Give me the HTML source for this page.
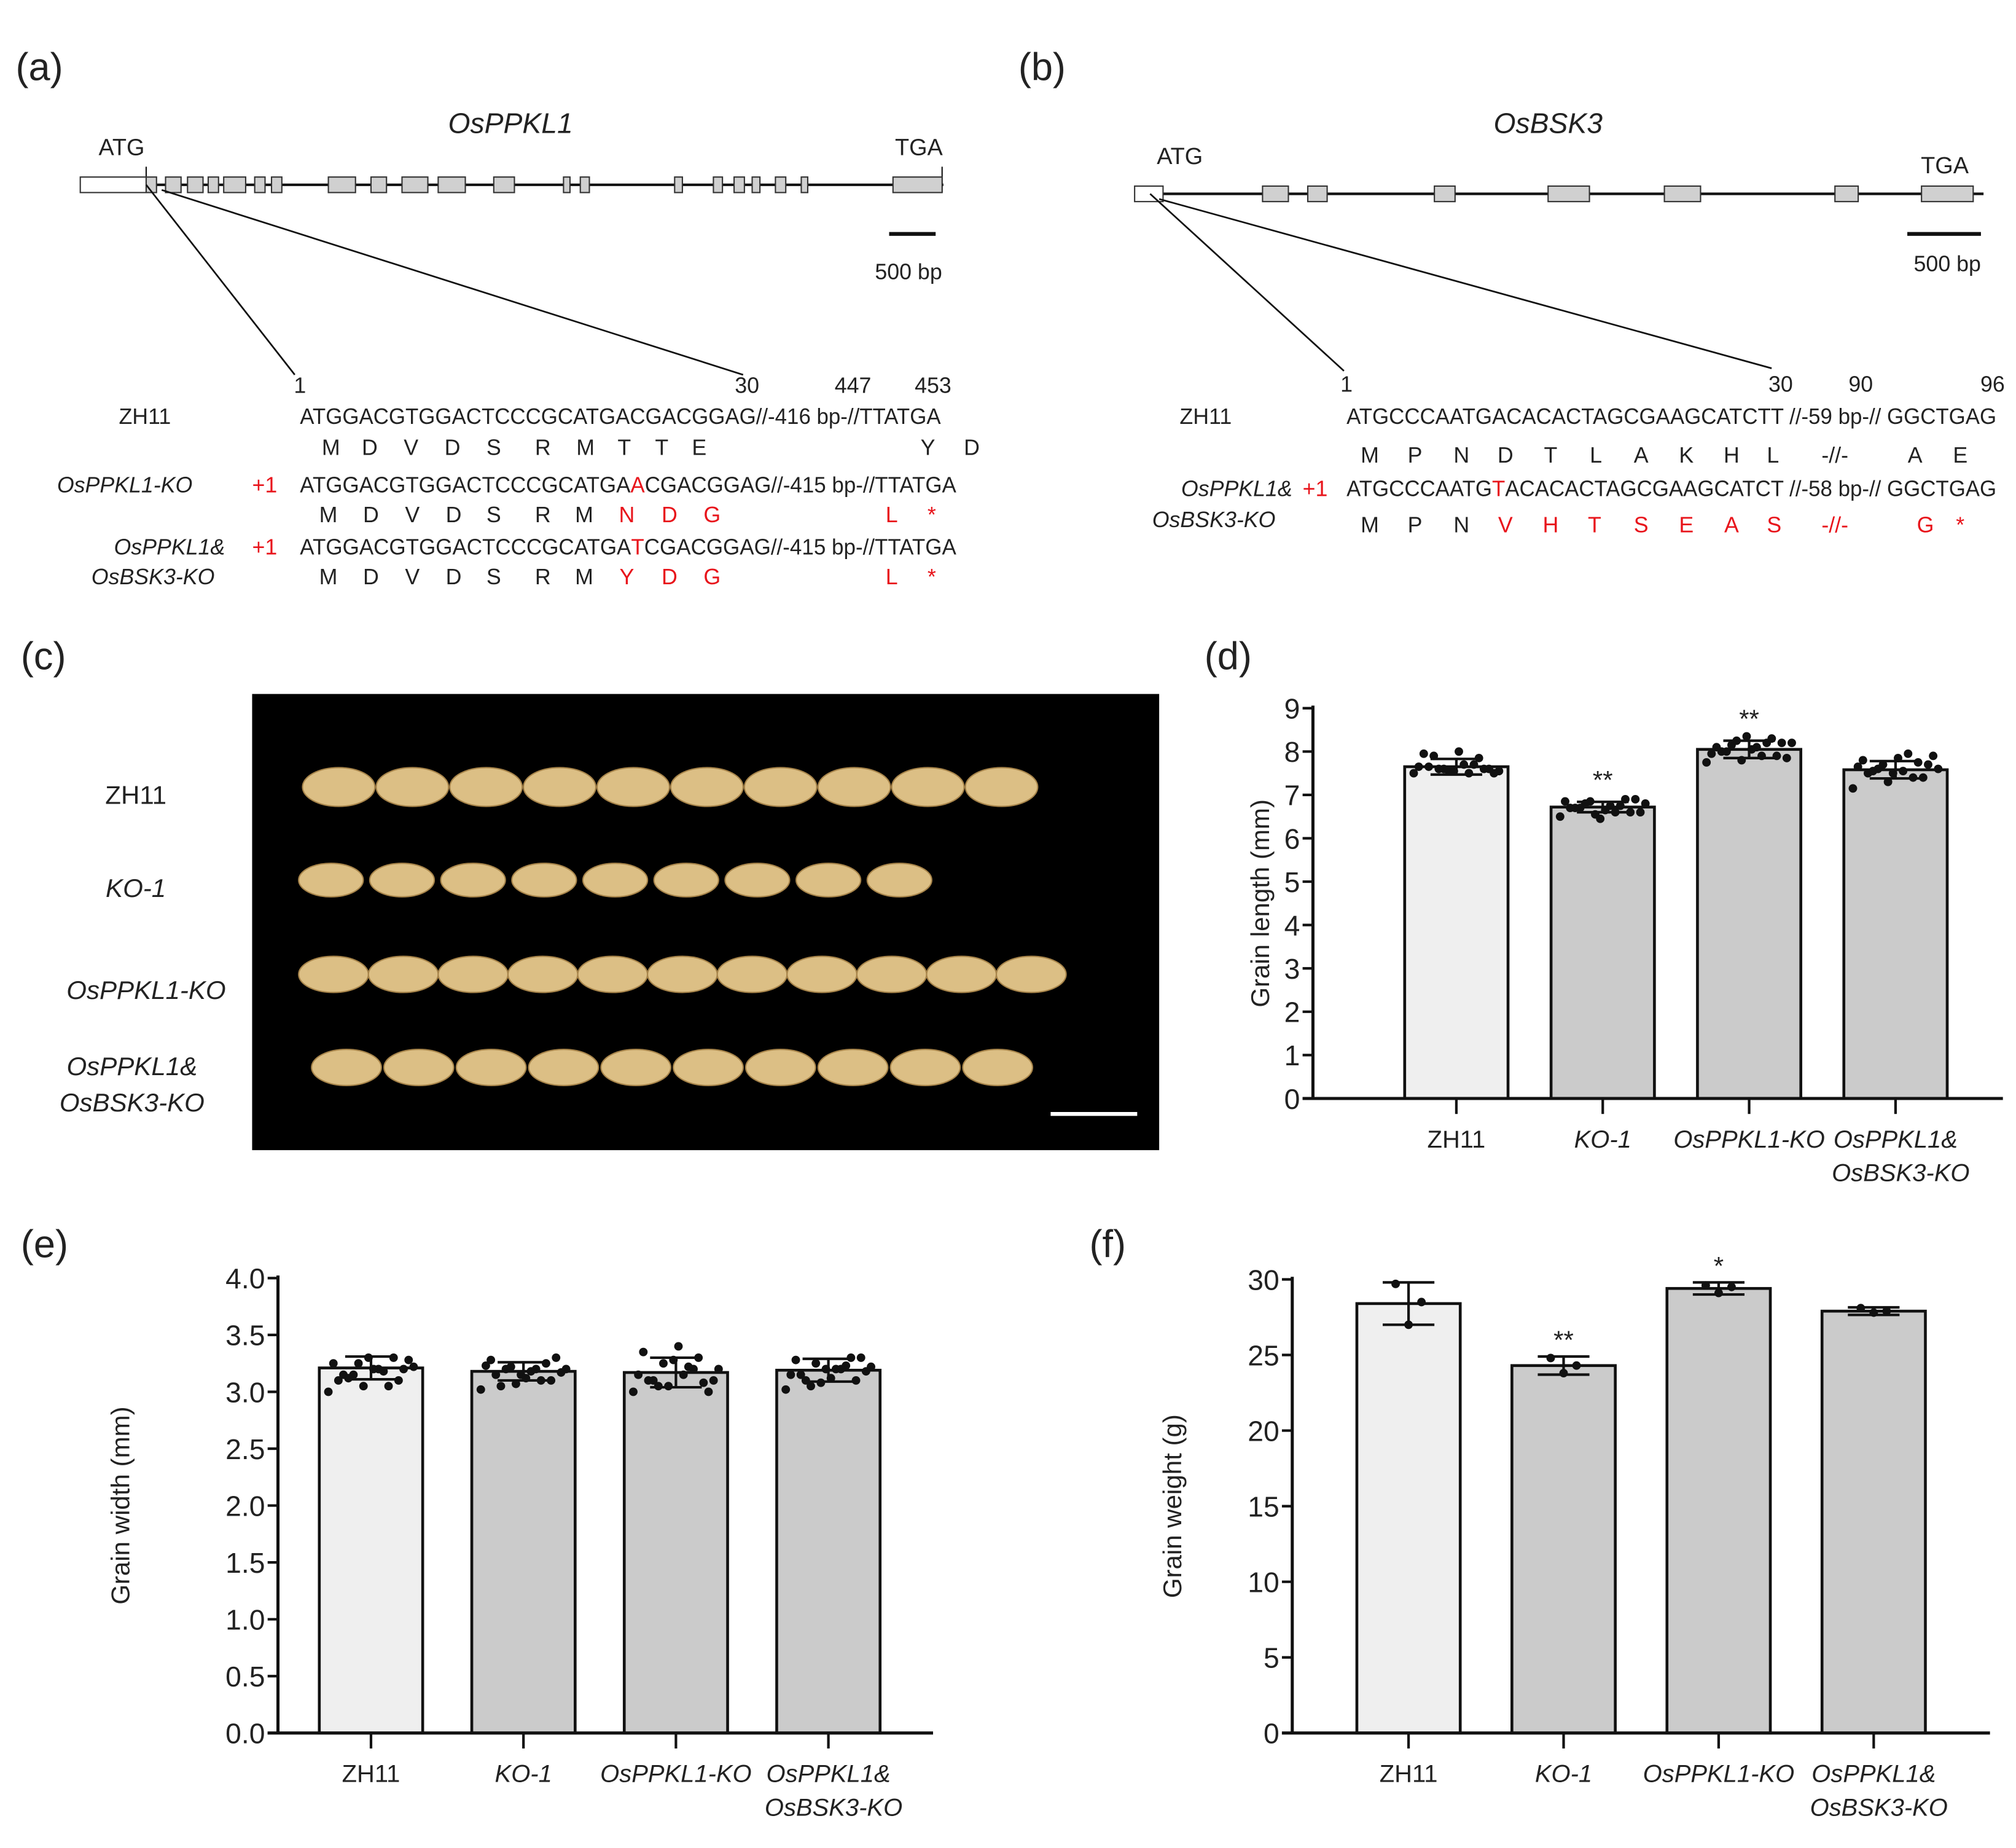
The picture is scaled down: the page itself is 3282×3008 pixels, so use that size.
<!DOCTYPE html>
<html><head><meta charset="utf-8"><style>
html,body{margin:0;padding:0;background:#fff}
svg{display:block}
text{font-family:"Liberation Sans",Arial,sans-serif;fill:#222}
.r{fill:#e8141b}
</style></head><body>
<svg id="fig" xmlns="http://www.w3.org/2000/svg" width="3282" height="3008" viewBox="0 0 1560 1430">
<rect width="1560" height="1430" fill="#fff"/>
<text x="12" y="62" font-size="30">(a)</text>
<text x="788" y="62" font-size="30">(b)</text>
<text x="16" y="518" font-size="30">(c)</text>
<text x="932" y="518" font-size="30">(d)</text>
<text x="16" y="973" font-size="30">(e)</text>
<text x="843" y="973" font-size="30">(f)</text>

<g>
<text x="395" y="103" font-size="22" font-style="italic" text-anchor="middle">OsPPKL1</text>
<text x="94" y="120" font-size="18" text-anchor="middle">ATG</text>
<text x="711" y="120" font-size="18" text-anchor="middle">TGA</text>
<line x1="62" y1="143" x2="730" y2="143" stroke="#111" stroke-width="2"/>
<line x1="113" y1="129" x2="113" y2="149" stroke="#111" stroke-width="1"/>
<line x1="729" y1="129" x2="729" y2="149" stroke="#111" stroke-width="1"/>
<rect x="62" y="137" width="51" height="12" fill="#fff" stroke="#333"/>
<g fill="#d0d0d0" stroke="#333" stroke-width="1">
<rect x="113" y="137" width="8" height="12"/><rect x="128" y="137" width="12" height="12"/><rect x="145" y="137" width="12" height="12"/><rect x="161" y="137" width="8" height="12"/><rect x="173" y="137" width="17" height="12"/><rect x="197" y="137" width="8" height="12"/><rect x="210" y="137" width="8" height="12"/><rect x="254" y="137" width="21" height="12"/><rect x="287" y="137" width="12" height="12"/><rect x="311" y="137" width="20" height="12"/><rect x="339" y="137" width="21" height="12"/><rect x="382" y="137" width="16" height="12"/><rect x="436" y="137" width="5" height="12"/><rect x="449" y="137" width="7" height="12"/><rect x="522" y="137" width="6" height="12"/><rect x="552" y="137" width="7" height="12"/><rect x="568" y="137" width="8" height="12"/><rect x="582" y="137" width="6" height="12"/><rect x="600" y="137" width="8" height="12"/><rect x="620" y="137" width="5" height="12"/><rect x="691" y="137" width="38" height="12"/>
</g>
<line x1="688" y1="181" x2="724" y2="181" stroke="#111" stroke-width="3"/>
<text x="703" y="216" font-size="17" text-anchor="middle">500 bp</text>
<line x1="113" y1="143" x2="228" y2="290" stroke="#111" stroke-width="1.3"/>
<line x1="125" y1="147" x2="575" y2="290" stroke="#111" stroke-width="1.3"/>
<text x="232" y="304" font-size="17" text-anchor="middle">1</text>
<text x="578" y="304" font-size="17" text-anchor="middle">30</text>
<text x="660" y="304" font-size="17" text-anchor="middle">447</text>
<text x="722" y="304" font-size="17" text-anchor="middle">453</text>
<text x="112" y="328" font-size="17" text-anchor="middle">ZH11</text>
<text x="232" y="328" font-size="17" textLength="496" lengthAdjust="spacingAndGlyphs">ATGGACGTGGACTCCCGCATGACGACGGAG//-416 bp-//TTATGA</text>
<text x="44" y="381" font-size="17" font-style="italic">OsPPKL1-KO</text>
<text x="195" y="381" font-size="17" class="r">+1</text>
<text x="232" y="381" font-size="17" textLength="508" lengthAdjust="spacingAndGlyphs">ATGGACGTGGACTCCCGCATGA<tspan class="r">A</tspan>CGACGGAG//-415 bp-//TTATGA</text>
<text x="174" y="429" font-size="17" font-style="italic" text-anchor="end">OsPPKL1&amp;</text>
<text x="166" y="452" font-size="17" font-style="italic" text-anchor="end">OsBSK3-KO</text>
<text x="195" y="429" font-size="17" class="r">+1</text>
<text x="232" y="429" font-size="17" textLength="508" lengthAdjust="spacingAndGlyphs">ATGGACGTGGACTCCCGCATGA<tspan class="r">T</tspan>CGACGGAG//-415 bp-//TTATGA</text>
<g id="aaA" font-size="17" text-anchor="middle"></g>
</g>

<g>
<text x="1198" y="103" font-size="22" font-style="italic" text-anchor="middle">OsBSK3</text>
<text x="913" y="127" font-size="18" text-anchor="middle">ATG</text>
<text x="1505" y="134" font-size="18" text-anchor="middle">TGA</text>
<line x1="878" y1="150" x2="1535" y2="150" stroke="#111" stroke-width="2"/>
<rect x="878" y="144" width="22" height="12" fill="#fff" stroke="#333"/>
<g fill="#d0d0d0" stroke="#333" stroke-width="1">
<rect x="977" y="144" width="20" height="12"/><rect x="1012" y="144" width="15" height="12"/><rect x="1110" y="144" width="16" height="12"/><rect x="1198" y="144" width="32" height="12"/><rect x="1288" y="144" width="28" height="12"/><rect x="1420" y="144" width="18" height="12"/><rect x="1487" y="144" width="40" height="12"/>
</g>
<line x1="1476" y1="181" x2="1533" y2="181" stroke="#111" stroke-width="3"/>
<text x="1507" y="210" font-size="17" text-anchor="middle">500 bp</text>
<line x1="890" y1="150" x2="1040" y2="287" stroke="#111" stroke-width="1.3"/>
<line x1="897" y1="154" x2="1371" y2="285" stroke="#111" stroke-width="1.3"/>
<text x="1042" y="303" font-size="17" text-anchor="middle">1</text>
<text x="1378" y="303" font-size="17" text-anchor="middle">30</text>
<text x="1440" y="303" font-size="17" text-anchor="middle">90</text>
<text x="1542" y="303" font-size="17" text-anchor="middle">96</text>
<text x="933" y="328" font-size="17" text-anchor="middle">ZH11</text>
<text x="1042" y="328" font-size="17" textLength="503" lengthAdjust="spacingAndGlyphs">ATGCCCAATGACACACTAGCGAAGCATCTT //-59 bp-// GGCTGAG</text>
<text x="1000" y="384" font-size="17" font-style="italic" text-anchor="end">OsPPKL1&amp;</text>
<text x="987" y="408" font-size="17" font-style="italic" text-anchor="end">OsBSK3-KO</text>
<text x="1008" y="384" font-size="17" class="r">+1</text>
<text x="1042" y="384" font-size="17" textLength="503" lengthAdjust="spacingAndGlyphs">ATGCCCAATG<tspan class="r">T</tspan>ACACACTAGCGAAGCATCT //-58 bp-// GGCTGAG</text>
<g id="aaB" font-size="17" text-anchor="middle"></g>
</g>

<g>
<text x="105" y="622" font-size="20" text-anchor="middle">ZH11</text>
<text x="105" y="694" font-size="20" font-style="italic" text-anchor="middle">KO-1</text>
<text x="113" y="773" font-size="20" font-style="italic" text-anchor="middle">OsPPKL1-KO</text>
<text x="102" y="832" font-size="20" font-style="italic" text-anchor="middle">OsPPKL1&amp;</text>
<text x="102" y="860" font-size="20" font-style="italic" text-anchor="middle">OsBSK3-KO</text>
<rect x="195" y="537" width="702" height="353" fill="#000"/>
<g id="grains"></g>
<line x1="813" y1="862" x2="880" y2="862" stroke="#fff" stroke-width="3"/>
</g>

<g id="chartD"></g>
<g id="chartE"></g>
<g id="chartF"></g>
</svg>
<script>
const NS='http://www.w3.org/2000/svg';
function mk(parent,tag,attrs,txt){const e=document.createElementNS(NS,tag);for(const k in attrs)e.setAttribute(k,attrs[k]);if(txt!==undefined)e.textContent=txt;parent.appendChild(e);return e;}

const aaA=document.getElementById('aaA');
[[352,[['M',256],['D',286],['V',318],['D',350],['S',382],['R',420],['M',453],['T',483],['T',512],['E',541],['Y',718],['D',752]]],
 [404,[['M',254],['D',287],['V',319],['D',351],['S',382],['R',420],['M',452],['N',485,1],['D',518,1],['G',551,1],['L',690,1],['*',721,1]]],
 [452,[['M',254],['D',287],['V',319],['D',351],['S',382],['R',420],['M',452],['Y',485,1],['D',518,1],['G',551,1],['L',690,1],['*',721,1]]]
].forEach(([y,arr])=>arr.forEach(a=>{const t=mk(aaA,'text',{x:a[1],y:y},a[0]);if(a[2])t.setAttribute('class','r');}));
const aaB=document.getElementById('aaB');
[[358,[['M',1060],['P',1095],['N',1131],['D',1165],['T',1200],['L',1235],['A',1270],['K',1305],['H',1340],['L',1372],['-//-',1420],['A',1482],['E',1517]]],
 [412,[['M',1060],['P',1095],['N',1131],['V',1165,1],['H',1200,1],['T',1234,1],['S',1270,1],['E',1305,1],['A',1340,1],['S',1373,1],['-//-',1420,1],['G',1490,1],['*',1517,1]]]
].forEach(([y,arr])=>arr.forEach(a=>{const t=mk(aaB,'text',{x:a[1],y:y},a[0]);if(a[2])t.setAttribute('class','r');}));

const gG=document.getElementById('grains');
[[609,262,57,10,28,15],[681,256,55,9,25,13],[754,258,54,11,27,14],[826,268,56,10,27,14]].forEach(([y,x0,dx,n,rx,ry])=>{
  for(let i=0;i<n;i++){const e=mk(gG,'ellipse',{cx:x0+i*dx,cy:y,rx:rx,ry:ry,fill:'#dcbf85',stroke:'#a7844a','stroke-width':1});
  
  }
});

const categories=['ZH11','KO-1','OsPPKL1-KO','OsPPKL1&\nOsBSK3-KO'];
const lenMeans=[7.65,6.72,8.05,7.58];
const lenSD=[0.18,0.12,0.2,0.2];
const lenSig=['','**','**',''];
const lenPoints=[[7.5,7.55,7.6,7.65,7.7,7.55,7.6,7.85,7.95,8.0,7.5,7.6,7.7,7.65,7.55,7.6,7.9,7.5],
 [6.5,6.55,6.6,6.7,6.75,6.8,6.85,6.9,6.7,6.65,6.6,6.8,6.75,6.85,6.45,6.9,6.7,6.6],
 [7.75,7.8,7.9,8.0,8.1,8.2,8.25,8.3,8.1,8.05,7.85,8.15,8.2,7.95,8.35,8.2,8.0,7.9],
 [7.15,7.3,7.4,7.5,7.55,7.6,7.7,7.75,7.8,7.85,7.9,7.6,7.4,7.65,7.5,7.7,7.55,7.95]];
const widMeans=[3.21,3.18,3.17,3.19];
const widSD=[0.1,0.08,0.13,0.1];
const widPoints=[[3.0,3.05,3.1,3.15,3.2,3.22,3.25,3.3,3.1,3.2,3.28,3.15,3.05,3.25,3.3,3.2,3.12,3.18],
 [3.02,3.07,3.1,3.15,3.18,3.2,3.22,3.25,3.28,3.12,3.17,3.2,3.1,3.23,3.15,3.3,3.05,3.2],
 [3.0,3.05,3.08,3.1,3.15,3.2,3.25,3.3,3.35,3.4,3.1,3.05,3.2,3.15,3.28,3.0,3.1,3.22],
 [3.02,3.08,3.1,3.15,3.2,3.22,3.25,3.3,3.28,3.12,3.18,3.05,3.23,3.15,3.2,3.3,3.1,3.2]];
const wtMeans=[28.4,24.3,29.4,27.9];
const wtSD=[1.4,0.6,0.4,0.25];
const wtSig=['','**','*',''];
const wtPoints=[[29.7,27.0,28.5],[24.8,23.8,24.3],[29.6,29.1,29.5],[28.1,27.8,27.9]];
const lenTicks=[0,1,2,3,4,5,6,7,8,9];
const widTicks=['0.0','0.5','1.0','1.5','2.0','2.5','3.0','3.5','4.0'];
const wtTicks=[0,5,10,15,20,25,30];

function chart(g,o){
  const y=v=>o.y0-(v-o.min)/(o.max-o.min)*(o.y0-o.yTop);
  const x=i=>o.cx0+i*o.dx;
  o.means.forEach((m,i)=>{
    const r=mk(g,'rect',{x:x(i)-o.bw/2,y:y(m),width:o.bw,height:o.y0-y(m),fill:i==0?'#efefef':'#cbcbcb',stroke:'#111','stroke-width':2.2});
    
    
    const n=o.pts[i].length;
    o.pts[i].forEach((p,j)=>{
      const k=(j*7)%n;
      const c=mk(g,'circle',{cx:x(i)-o.spread/2+k*(o.spread/(n-1||1)),cy:y(p),r:3.3,fill:'#111'});
      
      });
    const sd=o.sd[i];
    mk(g,'line',{x1:x(i),x2:x(i),y1:y(m-sd),y2:y(m+sd),stroke:'#111','stroke-width':2});
    mk(g,'line',{x1:x(i)-20,x2:x(i)+20,y1:y(m+sd),y2:y(m+sd),stroke:'#111','stroke-width':2});
    mk(g,'line',{x1:x(i)-20,x2:x(i)+20,y1:y(m-sd),y2:y(m-sd),stroke:'#111','stroke-width':2});
    if(o.sig&&o.sig[i]){const t=mk(g,'text',{x:x(i),y:y(m+sd)-o.sigOff,'font-size':20,'text-anchor':'middle',fill:'#444'},o.sig[i]);
      
      }
    mk(g,'line',{x1:x(i),x2:x(i),y1:o.y0,y2:o.y0+12,stroke:'#111','stroke-width':2});
    const lines=categories[i].split('\n');
    lines.forEach((ln,k)=>{const t=mk(g,'text',{x:x(i)+(k?4:0),y:o.y0+38+k*26,'font-size':19,'text-anchor':'middle','font-style':i==0?'normal':'italic'},ln);
      
      });
  });
  mk(g,'line',{x1:o.ax,x2:o.ax,y1:o.yTop-2,y2:o.y0,stroke:'#111','stroke-width':2.4});
  mk(g,'line',{x1:o.ax-8,x2:o.xEnd,y1:o.y0,y2:o.y0,stroke:'#111','stroke-width':2.4});
  o.ticks.forEach(tv=>{const v=parseFloat(tv);
    mk(g,'line',{x1:o.ax-8,x2:o.ax,y1:y(v),y2:y(v),stroke:'#111','stroke-width':2});
    const t=mk(g,'text',{x:o.ax-10,y:y(v)+8,'font-size':o.tfs,'text-anchor':'end'},String(tv));
    
    });
  const yt=mk(g,'text',{x:0,y:0,'font-size':20,'text-anchor':'middle',transform:`translate(${o.ytx},${(o.y0+o.yTop)/2}) rotate(-90)`},o.title);
  
  
}
chart(document.getElementById('chartD'),{means:lenMeans,sd:lenSD,pts:lenPoints,sig:lenSig,sigOff:10,min:0,max:9,y0:850,yTop:548,ax:1016,xEnd:1550,cx0:1127,dx:113.3,bw:80,spread:66,ticks:lenTicks,tfs:22,ytx:982,title:'Grain length (mm)'});
chart(document.getElementById('chartE'),{means:widMeans,sd:widSD,pts:widPoints,sig:null,min:0,max:4,y0:1341,yTop:989,ax:215,xEnd:722,cx0:287,dx:118,bw:80,spread:66,ticks:widTicks,tfs:22,ytx:100,title:'Grain width (mm)'});
chart(document.getElementById('chartF'),{means:wtMeans,sd:wtSD,pts:wtPoints,sig:wtSig,sigOff:6,min:0,max:30,y0:1341,yTop:990,ax:1000,xEnd:1540,cx0:1090,dx:120,bw:80,spread:20,ticks:wtTicks,tfs:22,ytx:914,title:'Grain weight (g)'});
</script>
</body></html>
